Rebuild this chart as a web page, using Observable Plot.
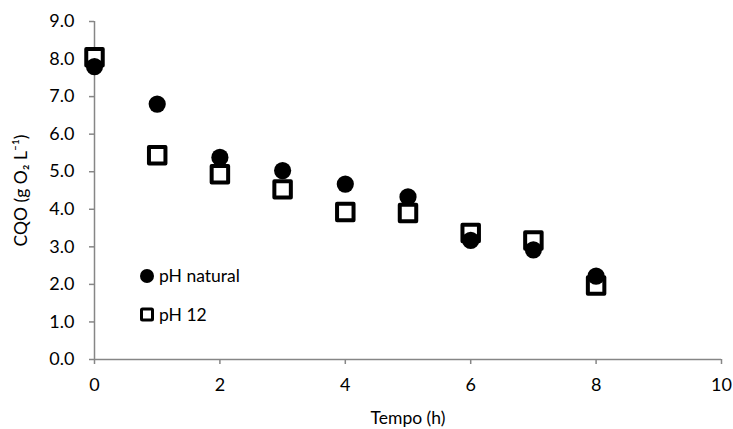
<!DOCTYPE html>
<html>
<head>
<meta charset="utf-8">
<script src="https://cdn.jsdelivr.net/npm/d3@7"></script>
<script src="https://cdn.jsdelivr.net/npm/@observablehq/plot@0.6"></script>
<style>
  html, body { margin: 0; padding: 0; background: #fff; }
  #wrap { position: relative; width: 733px; height: 429px; font-family: Lato, "Open Sans", sans-serif; }
  .leg { position: absolute; display: flex; align-items: center; font-size: 17.5px; color: #000; line-height: 20px; }
  #wrap svg g[aria-label="y-axis tick label"] text, #wrap svg g[aria-label="x-axis tick label"] text { font-size: 18px; }
</style>
</head>
<body>
<div id="wrap"></div>
<script>
// Data
const tempo = [0, 1, 2, 3, 4, 5, 6, 7, 8];
const phNatural = [7.8, 6.8, 5.38, 5.03, 4.67, 4.33, 3.17, 2.92, 2.22];
const ph12 = [8.05, 5.44, 4.93, 4.53, 3.93, 3.9, 3.37, 3.17, 1.97];
const seriesNames = ["pH natural", "pH 12"];
const yTicks = [0, 1, 2, 3, 4, 5, 6, 7, 8, 9];
const xTicks = [0, 2, 4, 6, 8, 10];

const natData = tempo.map((t, i) => ({t, v: phNatural[i]}));
const p12Data = tempo.map((t, i) => ({t, v: ph12[i]}));

const axisColor = "#868686";

const chart = Plot.plot({
  width: 733,
  height: 429,
  marginLeft: 94,
  marginRight: 12,
  marginTop: 21,
  marginBottom: 70,
  style: {fontFamily: "Lato, 'Open Sans', sans-serif", fontSize: "17.5px", color: "#000", background: "#fff"},
  x: {domain: [0, 10]},
  y: {domain: [0, 9]},
  marks: [
    Plot.ruleY([0], {stroke: axisColor, strokeWidth: 1.5}),
    Plot.ruleX([0], {stroke: axisColor, strokeWidth: 1.5}),
    Plot.axisY({ticks: yTicks, tickFormat: d => d.toFixed(1), tickSize: 5, tickPadding: 15, stroke: axisColor, strokeWidth: 1.5,
      label: "CQO (g O₂ L⁻¹)", labelAnchor: "center", labelOffset: 80, labelArrow: "none", fontSize: 17.5}),
    Plot.axisX({ticks: xTicks, tickSize: 5, tickPadding: 14, stroke: axisColor, strokeWidth: 1.5,
      label: "Tempo (h)", labelAnchor: "center", labelOffset: 64, labelArrow: "none", fontSize: 17.5}),
    Plot.dot(p12Data, {x: "t", y: "v", symbol: "square", r: 9.3, fill: "#fff", stroke: "#000", strokeWidth: 4, strokeLinejoin: "round"}),
    Plot.dot(natData, {x: "t", y: "v", symbol: "circle", r: 8.6, fill: "#000", stroke: "none"})
  ]
});

const wrap = document.getElementById("wrap");
wrap.appendChild(chart);

// Legend (inside plot area, as in reference)
const leg1 = document.createElement("div");
leg1.className = "leg";
leg1.style.left = "139px"; leg1.style.top = "266px";
leg1.innerHTML = `<svg width="17" height="18"><circle cx="8" cy="9" r="7" fill="#000"/></svg><span style="margin-left:3px">${seriesNames[0]}</span>`;
wrap.appendChild(leg1);

const leg2 = document.createElement("div");
leg2.className = "leg";
leg2.style.left = "139px"; leg2.style.top = "305px";
leg2.innerHTML = `<svg width="17" height="18"><rect x="2.5" y="3" width="11" height="11" rx="1" fill="#fff" stroke="#000" stroke-width="3"/></svg><span style="margin-left:3px">${seriesNames[1]}</span>`;
wrap.appendChild(leg2);
</script>
</body>
</html>
